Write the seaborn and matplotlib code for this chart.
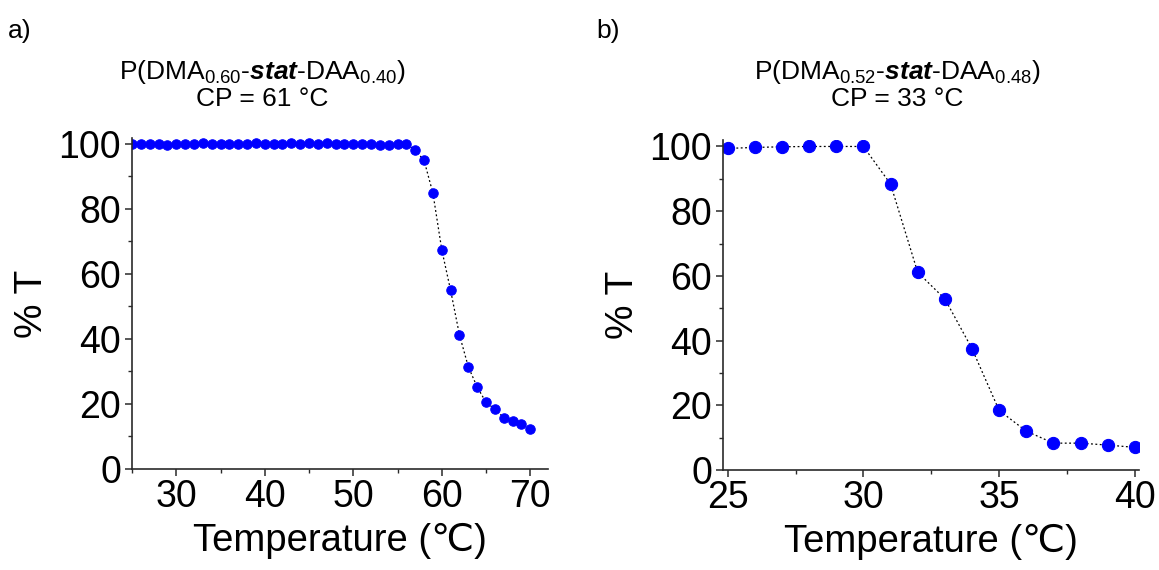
import matplotlib
matplotlib.use("Agg")
import matplotlib.pyplot as plt
from matplotlib.ticker import MultipleLocator
import seaborn as sns
import pandas as pd

# Turbidity curves (% transmittance vs temperature)
temp_a = list(range(25, 71))
trans_a = [100.0, 99.9, 100.0, 99.9, 99.8, 99.9, 100.0, 100.1, 100.2, 100.0,
           100.1, 100.0, 100.1, 100.0, 100.2, 100.1, 100.0, 100.1, 100.2, 100.1,
           100.2, 100.1, 100.2, 100.1, 100.0, 100.1, 100.0, 99.9, 99.8, 99.8,
           100.0, 100.0, 98.0, 94.9, 84.8, 67.4, 54.9, 41.2, 31.4, 25.2,
           20.5, 18.4, 15.8, 14.8, 13.8, 12.4]

temp_b = list(range(25, 41))
trans_b = [99.4, 99.7, 99.9, 100.0, 100.0, 100.0, 88.4, 61.1, 52.9, 37.5,
           18.4, 12.0, 8.3, 8.3, 7.7, 7.0]

title_a = r"P(DMA$_{\mathrm{0.60}}$-$\mathbfit{stat}$-DAA$_{\mathrm{0.40}}$)"
title_b = r"P(DMA$_{\mathrm{0.52}}$-$\mathbfit{stat}$-DAA$_{\mathrm{0.48}}$)"
cp_a = "CP = 61 °C"
cp_b = "CP = 33 °C"

sns.set_theme(style="ticks")
plt.rcParams["font.family"] = ["Liberation Sans", "DejaVu Sans"]
plt.rcParams["text.color"] = "black"
plt.rcParams["axes.labelcolor"] = "black"
plt.rcParams["mathtext.fontset"] = "custom"
plt.rcParams["mathtext.rm"] = "Liberation Sans"
plt.rcParams["mathtext.it"] = "Liberation Sans:italic"
plt.rcParams["mathtext.bf"] = "Liberation Sans:bold"
plt.rcParams["mathtext.bfit"] = "Liberation Sans:bold:italic"

W, H = 1159, 570
fig = plt.figure(figsize=(W / 100, H / 100), dpi=100)


def px_axes(x0, y0, x1, y1):
    return fig.add_axes([x0 / W, 1 - y1 / H, (x1 - x0) / W, (y1 - y0) / H])


ax_a = px_axes(132, 138, 548, 469)
ax_b = px_axes(723, 140, 1139, 470)

df_a = pd.DataFrame({"T": temp_a, "tr": trans_a})
df_b = pd.DataFrame({"T": temp_b, "tr": trans_b})

sns.lineplot(data=df_a, x="T", y="tr", ax=ax_a, color="black", linewidth=0.9,
             linestyle=(0, (1.5, 2.0)), marker="o", markersize=6.8,
             markerfacecolor="#0000ff", markeredgecolor="#0000ff")
sns.lineplot(data=df_b, x="T", y="tr", ax=ax_b, color="black", linewidth=0.9,
             linestyle=(0, (1.5, 2.0)), marker="o", markersize=8.8,
             markerfacecolor="#0000ff", markeredgecolor="#0000ff")

ax_a.set_xlim(25, 72)
ax_a.set_ylim(0, 101.8)
ax_a.xaxis.set_major_locator(MultipleLocator(10))
ax_a.xaxis.set_minor_locator(MultipleLocator(5))

ax_b.set_xlim(24.83, 40.15)
ax_b.set_ylim(0, 102)
ax_b.xaxis.set_major_locator(MultipleLocator(5))
ax_b.xaxis.set_minor_locator(MultipleLocator(2.5))

for ax in (ax_a, ax_b):
    ax.yaxis.set_major_locator(MultipleLocator(20))
    ax.yaxis.set_minor_locator(MultipleLocator(10))
    for side in ("top", "right"):
        ax.spines[side].set_visible(False)
    for side in ("left", "bottom"):
        ax.spines[side].set_linewidth(1.2)
        ax.spines[side].set_color("#2a2a2a")
    ax.tick_params(which="major", direction="out", length=5, width=1.1,
                   color="#2a2a2a", labelcolor="black", labelsize=27)
    ax.tick_params(axis="x", which="major", pad=2)
    ax.tick_params(axis="y", which="major", pad=3)
    ax.tick_params(which="minor", direction="out", length=3, width=1.0,
                   color="#2a2a2a")
    ax.set_xlabel("Temperature (℃)", fontsize=27.5, labelpad=6)
    ax.set_ylabel("% T", fontsize=28, labelpad=6)
    ax.set_facecolor("white")

# Panel letters and titles
fig.text(8 / W, 1 - 38 / H, "a)", fontsize=19, ha="left")
fig.text(596 / W, 1 - 38 / H, "b)", fontsize=19, ha="left")
fig.text(262 / W, 1 - 79 / H, title_a, fontsize=19, ha="center")
fig.text(262 / W, 1 - 106 / H, cp_a, fontsize=19, ha="center")
fig.text(897 / W, 1 - 79 / H, title_b, fontsize=19, ha="center")
fig.text(897 / W, 1 - 106 / H, cp_b, fontsize=19, ha="center")

fig.savefig("out.png", dpi=100, facecolor="white")
